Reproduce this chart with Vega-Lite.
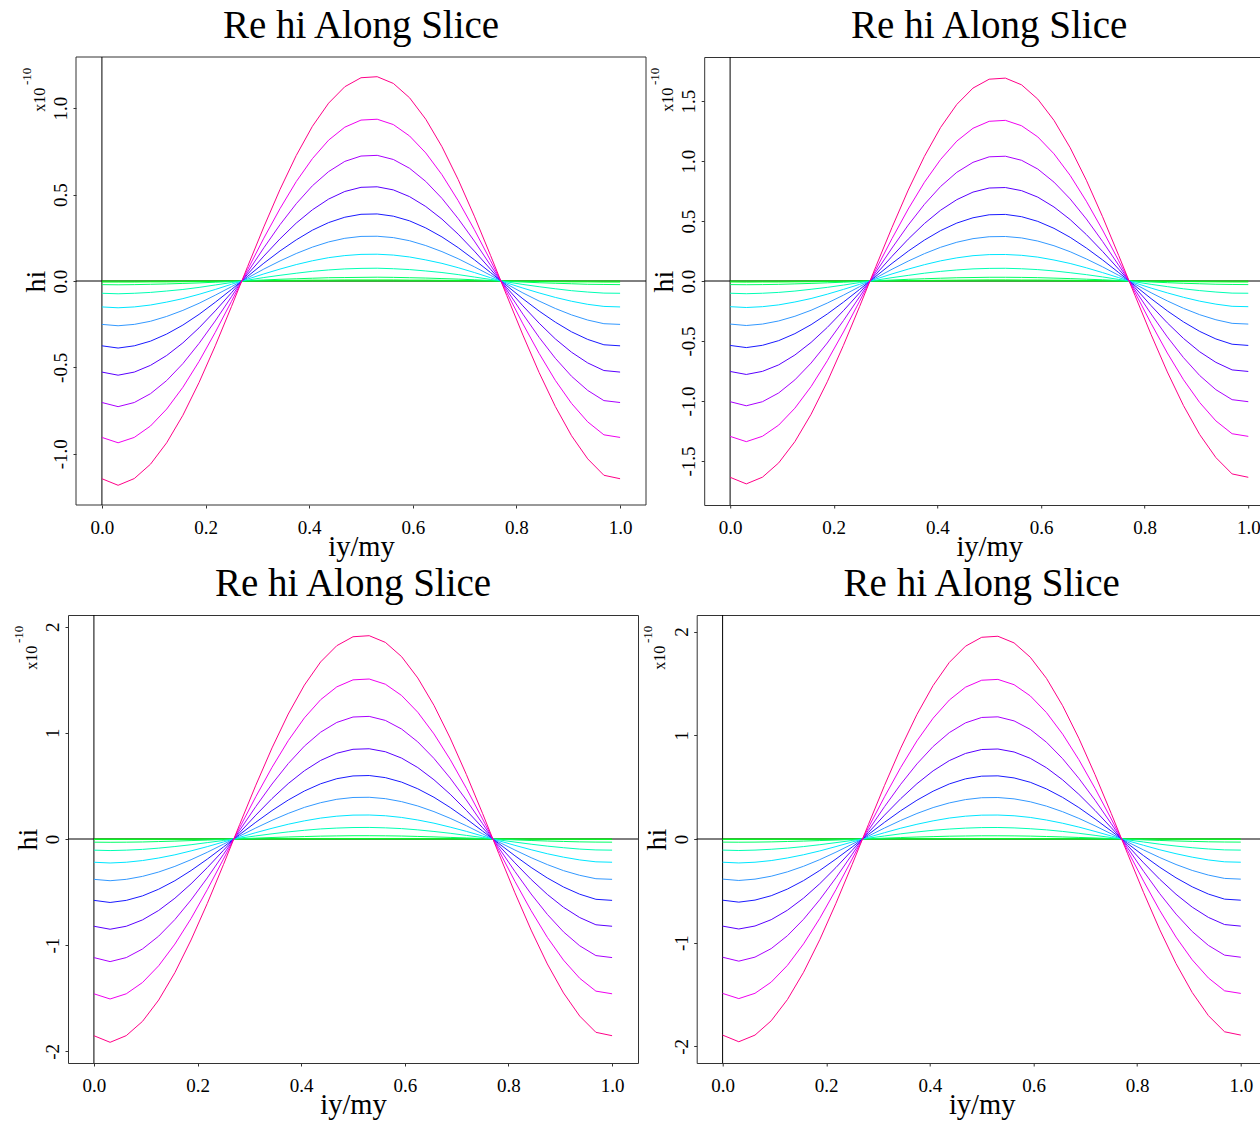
{
"$schema": "https://vega.github.io/schema/vega-lite/v6.json",
"background": "white",
"padding": {"left": 5, "top": 6, "right": 0, "bottom": 0},
"config": {
"font": "Liberation Serif",
"locale": {"number": {"decimal": ".", "thousands": ",", "grouping": [3], "currency": ["$", ""], "minus": "-"}},
"view": {"stroke": "#333333", "strokeWidth": 1},
"axis": {"grid": false, "domain": false, "ticks": true, "tickColor": "#333333", "tickSize": 3, "tickWidth": 1, "labelFont": "Liberation Serif", "labelFontSize": 19, "labelColor": "#000000", "labelOverlap": false, "labelFlush": false, "labelBound": false, "titleFont": "Liberation Serif", "titleFontWeight": "normal", "titleColor": "#000000"},
"axisX": {"labelAngle": 0, "labelAlign": "center", "labelBaseline": "alphabetic", "labelPadding": 25.2, "titleFontSize": 28.5, "titleAngle": 0, "titleAlign": "center", "titleBaseline": "alphabetic", "titleX": 285, "titleY": 50, "minExtent": 60, "maxExtent": 60},
"axisY": {"labelAngle": 270, "labelAlign": "center", "labelBaseline": "alphabetic", "labelPadding": 6.5, "titleFontSize": 28, "titleAngle": 270, "titleAlign": "center", "titleBaseline": "alphabetic", "titleX": -31.5, "titleY": 224, "minExtent": 55, "maxExtent": 55},
"title": {"font": "Liberation Serif", "fontSize": 39, "fontWeight": "normal", "color": "#000000", "baseline": "alphabetic", "offset": 11, "frame": "group", "anchor": "middle"}
},
"datasets": {
"p1": [
{"c":0,"x":0,"hi":0},{"c":0,"x":0.03125,"hi":0},{"c":0,"x":0.0625,"hi":0},{"c":0,"x":0.09375,"hi":0},{"c":0,"x":0.125,"hi":0},{"c":0,"x":0.15625,"hi":0},{"c":0,"x":0.1875,"hi":0},{"c":0,"x":0.21875,"hi":0},{"c":0,"x":0.25,"hi":0},{"c":0,"x":0.28125,"hi":0},{"c":0,"x":0.3125,"hi":0},{"c":0,"x":0.34375,"hi":0},{"c":0,"x":0.375,"hi":0},{"c":0,"x":0.40625,"hi":0},{"c":0,"x":0.4375,"hi":0},{"c":0,"x":0.46875,"hi":0},{"c":0,"x":0.5,"hi":0},{"c":0,"x":0.53125,"hi":0},{"c":0,"x":0.5625,"hi":0},{"c":0,"x":0.59375,"hi":0},{"c":0,"x":0.625,"hi":0},{"c":0,"x":0.65625,"hi":0},{"c":0,"x":0.6875,"hi":0},{"c":0,"x":0.71875,"hi":0},{"c":0,"x":0.75,"hi":0},{"c":0,"x":0.78125,"hi":0},{"c":0,"x":0.8125,"hi":0},{"c":0,"x":0.84375,"hi":0},{"c":0,"x":0.875,"hi":0},{"c":0,"x":0.90625,"hi":0},{"c":0,"x":0.9375,"hi":0},{"c":0,"x":0.96875,"hi":0},{"c":0,"x":1,"hi":0},
{"c":1,"x":0,"hi":-0.006},{"c":1,"x":0.03125,"hi":-0.006},{"c":1,"x":0.0625,"hi":-0.006},{"c":1,"x":0.09375,"hi":-0.005},{"c":1,"x":0.125,"hi":-0.005},{"c":1,"x":0.15625,"hi":-0.004},{"c":1,"x":0.1875,"hi":-0.003},{"c":1,"x":0.21875,"hi":-0.002},{"c":1,"x":0.25,"hi":-0.001},{"c":1,"x":0.28125,"hi":0},{"c":1,"x":0.3125,"hi":0.002},{"c":1,"x":0.34375,"hi":0.003},{"c":1,"x":0.375,"hi":0.004},{"c":1,"x":0.40625,"hi":0.005},{"c":1,"x":0.4375,"hi":0.005},{"c":1,"x":0.46875,"hi":0.006},{"c":1,"x":0.5,"hi":0.006},{"c":1,"x":0.53125,"hi":0.006},{"c":1,"x":0.5625,"hi":0.006},{"c":1,"x":0.59375,"hi":0.005},{"c":1,"x":0.625,"hi":0.005},{"c":1,"x":0.65625,"hi":0.004},{"c":1,"x":0.6875,"hi":0.003},{"c":1,"x":0.71875,"hi":0.002},{"c":1,"x":0.75,"hi":0.001},{"c":1,"x":0.78125,"hi":0},{"c":1,"x":0.8125,"hi":-0.002},{"c":1,"x":0.84375,"hi":-0.003},{"c":1,"x":0.875,"hi":-0.004},{"c":1,"x":0.90625,"hi":-0.005},{"c":1,"x":0.9375,"hi":-0.005},{"c":1,"x":0.96875,"hi":-0.006},{"c":1,"x":1,"hi":-0.006},
{"c":2,"x":0,"hi":-0.021},{"c":2,"x":0.03125,"hi":-0.022},{"c":2,"x":0.0625,"hi":-0.021},{"c":2,"x":0.09375,"hi":-0.019},{"c":2,"x":0.125,"hi":-0.017},{"c":2,"x":0.15625,"hi":-0.014},{"c":2,"x":0.1875,"hi":-0.011},{"c":2,"x":0.21875,"hi":-0.007},{"c":2,"x":0.25,"hi":-0.003},{"c":2,"x":0.28125,"hi":0.002},{"c":2,"x":0.3125,"hi":0.006},{"c":2,"x":0.34375,"hi":0.01},{"c":2,"x":0.375,"hi":0.013},{"c":2,"x":0.40625,"hi":0.016},{"c":2,"x":0.4375,"hi":0.019},{"c":2,"x":0.46875,"hi":0.02},{"c":2,"x":0.5,"hi":0.021},{"c":2,"x":0.53125,"hi":0.022},{"c":2,"x":0.5625,"hi":0.021},{"c":2,"x":0.59375,"hi":0.019},{"c":2,"x":0.625,"hi":0.017},{"c":2,"x":0.65625,"hi":0.014},{"c":2,"x":0.6875,"hi":0.011},{"c":2,"x":0.71875,"hi":0.007},{"c":2,"x":0.75,"hi":0.003},{"c":2,"x":0.78125,"hi":-0.002},{"c":2,"x":0.8125,"hi":-0.006},{"c":2,"x":0.84375,"hi":-0.01},{"c":2,"x":0.875,"hi":-0.013},{"c":2,"x":0.90625,"hi":-0.016},{"c":2,"x":0.9375,"hi":-0.019},{"c":2,"x":0.96875,"hi":-0.02},{"c":2,"x":1,"hi":-0.021},
{"c":3,"x":0,"hi":-0.071},{"c":3,"x":0.03125,"hi":-0.074},{"c":3,"x":0.0625,"hi":-0.071},{"c":3,"x":0.09375,"hi":-0.066},{"c":3,"x":0.125,"hi":-0.058},{"c":3,"x":0.15625,"hi":-0.049},{"c":3,"x":0.1875,"hi":-0.037},{"c":3,"x":0.21875,"hi":-0.023},{"c":3,"x":0.25,"hi":-0.009},{"c":3,"x":0.28125,"hi":0.005},{"c":3,"x":0.3125,"hi":0.02},{"c":3,"x":0.34375,"hi":0.033},{"c":3,"x":0.375,"hi":0.045},{"c":3,"x":0.40625,"hi":0.056},{"c":3,"x":0.4375,"hi":0.064},{"c":3,"x":0.46875,"hi":0.07},{"c":3,"x":0.5,"hi":0.073},{"c":3,"x":0.53125,"hi":0.074},{"c":3,"x":0.5625,"hi":0.071},{"c":3,"x":0.59375,"hi":0.066},{"c":3,"x":0.625,"hi":0.058},{"c":3,"x":0.65625,"hi":0.049},{"c":3,"x":0.6875,"hi":0.037},{"c":3,"x":0.71875,"hi":0.023},{"c":3,"x":0.75,"hi":0.009},{"c":3,"x":0.78125,"hi":-0.005},{"c":3,"x":0.8125,"hi":-0.02},{"c":3,"x":0.84375,"hi":-0.033},{"c":3,"x":0.875,"hi":-0.045},{"c":3,"x":0.90625,"hi":-0.056},{"c":3,"x":0.9375,"hi":-0.064},{"c":3,"x":0.96875,"hi":-0.07},{"c":3,"x":1,"hi":-0.071},
{"c":4,"x":0,"hi":-0.15},{"c":4,"x":0.03125,"hi":-0.155},{"c":4,"x":0.0625,"hi":-0.15},{"c":4,"x":0.09375,"hi":-0.139},{"c":4,"x":0.125,"hi":-0.122},{"c":4,"x":0.15625,"hi":-0.102},{"c":4,"x":0.1875,"hi":-0.077},{"c":4,"x":0.21875,"hi":-0.049},{"c":4,"x":0.25,"hi":-0.019},{"c":4,"x":0.28125,"hi":0.011},{"c":4,"x":0.3125,"hi":0.041},{"c":4,"x":0.34375,"hi":0.069},{"c":4,"x":0.375,"hi":0.095},{"c":4,"x":0.40625,"hi":0.117},{"c":4,"x":0.4375,"hi":0.135},{"c":4,"x":0.46875,"hi":0.147},{"c":4,"x":0.5,"hi":0.154},{"c":4,"x":0.53125,"hi":0.155},{"c":4,"x":0.5625,"hi":0.15},{"c":4,"x":0.59375,"hi":0.139},{"c":4,"x":0.625,"hi":0.122},{"c":4,"x":0.65625,"hi":0.102},{"c":4,"x":0.6875,"hi":0.077},{"c":4,"x":0.71875,"hi":0.049},{"c":4,"x":0.75,"hi":0.019},{"c":4,"x":0.78125,"hi":-0.011},{"c":4,"x":0.8125,"hi":-0.041},{"c":4,"x":0.84375,"hi":-0.069},{"c":4,"x":0.875,"hi":-0.095},{"c":4,"x":0.90625,"hi":-0.117},{"c":4,"x":0.9375,"hi":-0.135},{"c":4,"x":0.96875,"hi":-0.147},{"c":4,"x":1,"hi":-0.15},
{"c":5,"x":0,"hi":-0.251},{"c":5,"x":0.03125,"hi":-0.259},{"c":5,"x":0.0625,"hi":-0.251},{"c":5,"x":0.09375,"hi":-0.233},{"c":5,"x":0.125,"hi":-0.205},{"c":5,"x":0.15625,"hi":-0.17},{"c":5,"x":0.1875,"hi":-0.129},{"c":5,"x":0.21875,"hi":-0.082},{"c":5,"x":0.25,"hi":-0.033},{"c":5,"x":0.28125,"hi":0.018},{"c":5,"x":0.3125,"hi":0.069},{"c":5,"x":0.34375,"hi":0.116},{"c":5,"x":0.375,"hi":0.159},{"c":5,"x":0.40625,"hi":0.196},{"c":5,"x":0.4375,"hi":0.226},{"c":5,"x":0.46875,"hi":0.247},{"c":5,"x":0.5,"hi":0.258},{"c":5,"x":0.53125,"hi":0.259},{"c":5,"x":0.5625,"hi":0.251},{"c":5,"x":0.59375,"hi":0.233},{"c":5,"x":0.625,"hi":0.205},{"c":5,"x":0.65625,"hi":0.17},{"c":5,"x":0.6875,"hi":0.129},{"c":5,"x":0.71875,"hi":0.082},{"c":5,"x":0.75,"hi":0.033},{"c":5,"x":0.78125,"hi":-0.018},{"c":5,"x":0.8125,"hi":-0.069},{"c":5,"x":0.84375,"hi":-0.116},{"c":5,"x":0.875,"hi":-0.159},{"c":5,"x":0.90625,"hi":-0.196},{"c":5,"x":0.9375,"hi":-0.226},{"c":5,"x":0.96875,"hi":-0.247},{"c":5,"x":1,"hi":-0.251},
{"c":6,"x":0,"hi":-0.375},{"c":6,"x":0.03125,"hi":-0.388},{"c":6,"x":0.0625,"hi":-0.375},{"c":6,"x":0.09375,"hi":-0.348},{"c":6,"x":0.125,"hi":-0.307},{"c":6,"x":0.15625,"hi":-0.255},{"c":6,"x":0.1875,"hi":-0.193},{"c":6,"x":0.21875,"hi":-0.123},{"c":6,"x":0.25,"hi":-0.049},{"c":6,"x":0.28125,"hi":0.027},{"c":6,"x":0.3125,"hi":0.103},{"c":6,"x":0.34375,"hi":0.174},{"c":6,"x":0.375,"hi":0.238},{"c":6,"x":0.40625,"hi":0.294},{"c":6,"x":0.4375,"hi":0.338},{"c":6,"x":0.46875,"hi":0.369},{"c":6,"x":0.5,"hi":0.386},{"c":6,"x":0.53125,"hi":0.388},{"c":6,"x":0.5625,"hi":0.375},{"c":6,"x":0.59375,"hi":0.348},{"c":6,"x":0.625,"hi":0.307},{"c":6,"x":0.65625,"hi":0.255},{"c":6,"x":0.6875,"hi":0.193},{"c":6,"x":0.71875,"hi":0.123},{"c":6,"x":0.75,"hi":0.049},{"c":6,"x":0.78125,"hi":-0.027},{"c":6,"x":0.8125,"hi":-0.103},{"c":6,"x":0.84375,"hi":-0.174},{"c":6,"x":0.875,"hi":-0.238},{"c":6,"x":0.90625,"hi":-0.294},{"c":6,"x":0.9375,"hi":-0.338},{"c":6,"x":0.96875,"hi":-0.369},{"c":6,"x":1,"hi":-0.375},
{"c":7,"x":0,"hi":-0.527},{"c":7,"x":0.03125,"hi":-0.545},{"c":7,"x":0.0625,"hi":-0.527},{"c":7,"x":0.09375,"hi":-0.488},{"c":7,"x":0.125,"hi":-0.431},{"c":7,"x":0.15625,"hi":-0.358},{"c":7,"x":0.1875,"hi":-0.271},{"c":7,"x":0.21875,"hi":-0.173},{"c":7,"x":0.25,"hi":-0.068},{"c":7,"x":0.28125,"hi":0.039},{"c":7,"x":0.3125,"hi":0.144},{"c":7,"x":0.34375,"hi":0.244},{"c":7,"x":0.375,"hi":0.335},{"c":7,"x":0.40625,"hi":0.412},{"c":7,"x":0.4375,"hi":0.474},{"c":7,"x":0.46875,"hi":0.518},{"c":7,"x":0.5,"hi":0.542},{"c":7,"x":0.53125,"hi":0.545},{"c":7,"x":0.5625,"hi":0.527},{"c":7,"x":0.59375,"hi":0.488},{"c":7,"x":0.625,"hi":0.431},{"c":7,"x":0.65625,"hi":0.358},{"c":7,"x":0.6875,"hi":0.271},{"c":7,"x":0.71875,"hi":0.173},{"c":7,"x":0.75,"hi":0.068},{"c":7,"x":0.78125,"hi":-0.039},{"c":7,"x":0.8125,"hi":-0.144},{"c":7,"x":0.84375,"hi":-0.244},{"c":7,"x":0.875,"hi":-0.335},{"c":7,"x":0.90625,"hi":-0.412},{"c":7,"x":0.9375,"hi":-0.474},{"c":7,"x":0.96875,"hi":-0.518},{"c":7,"x":1,"hi":-0.527},
{"c":8,"x":0,"hi":-0.703},{"c":8,"x":0.03125,"hi":-0.727},{"c":8,"x":0.0625,"hi":-0.703},{"c":8,"x":0.09375,"hi":-0.652},{"c":8,"x":0.125,"hi":-0.576},{"c":8,"x":0.15625,"hi":-0.478},{"c":8,"x":0.1875,"hi":-0.361},{"c":8,"x":0.21875,"hi":-0.231},{"c":8,"x":0.25,"hi":-0.091},{"c":8,"x":0.28125,"hi":0.051},{"c":8,"x":0.3125,"hi":0.192},{"c":8,"x":0.34375,"hi":0.326},{"c":8,"x":0.375,"hi":0.447},{"c":8,"x":0.40625,"hi":0.551},{"c":8,"x":0.4375,"hi":0.633},{"c":8,"x":0.46875,"hi":0.692},{"c":8,"x":0.5,"hi":0.723},{"c":8,"x":0.53125,"hi":0.727},{"c":8,"x":0.5625,"hi":0.703},{"c":8,"x":0.59375,"hi":0.652},{"c":8,"x":0.625,"hi":0.576},{"c":8,"x":0.65625,"hi":0.478},{"c":8,"x":0.6875,"hi":0.361},{"c":8,"x":0.71875,"hi":0.231},{"c":8,"x":0.75,"hi":0.091},{"c":8,"x":0.78125,"hi":-0.051},{"c":8,"x":0.8125,"hi":-0.192},{"c":8,"x":0.84375,"hi":-0.326},{"c":8,"x":0.875,"hi":-0.447},{"c":8,"x":0.90625,"hi":-0.551},{"c":8,"x":0.9375,"hi":-0.633},{"c":8,"x":0.96875,"hi":-0.692},{"c":8,"x":1,"hi":-0.703},
{"c":9,"x":0,"hi":-0.905},{"c":9,"x":0.03125,"hi":-0.936},{"c":9,"x":0.0625,"hi":-0.905},{"c":9,"x":0.09375,"hi":-0.839},{"c":9,"x":0.125,"hi":-0.741},{"c":9,"x":0.15625,"hi":-0.615},{"c":9,"x":0.1875,"hi":-0.465},{"c":9,"x":0.21875,"hi":-0.297},{"c":9,"x":0.25,"hi":-0.118},{"c":9,"x":0.28125,"hi":0.066},{"c":9,"x":0.3125,"hi":0.248},{"c":9,"x":0.34375,"hi":0.419},{"c":9,"x":0.375,"hi":0.575},{"c":9,"x":0.40625,"hi":0.708},{"c":9,"x":0.4375,"hi":0.815},{"c":9,"x":0.46875,"hi":0.89},{"c":9,"x":0.5,"hi":0.931},{"c":9,"x":0.53125,"hi":0.936},{"c":9,"x":0.5625,"hi":0.905},{"c":9,"x":0.59375,"hi":0.839},{"c":9,"x":0.625,"hi":0.741},{"c":9,"x":0.65625,"hi":0.615},{"c":9,"x":0.6875,"hi":0.465},{"c":9,"x":0.71875,"hi":0.297},{"c":9,"x":0.75,"hi":0.118},{"c":9,"x":0.78125,"hi":-0.066},{"c":9,"x":0.8125,"hi":-0.248},{"c":9,"x":0.84375,"hi":-0.419},{"c":9,"x":0.875,"hi":-0.575},{"c":9,"x":0.90625,"hi":-0.708},{"c":9,"x":0.9375,"hi":-0.815},{"c":9,"x":0.96875,"hi":-0.89},{"c":9,"x":1,"hi":-0.905},
{"c":10,"x":0,"hi":-1.144},{"c":10,"x":0.03125,"hi":-1.182},{"c":10,"x":0.0625,"hi":-1.143},{"c":10,"x":0.09375,"hi":-1.06},{"c":10,"x":0.125,"hi":-0.936},{"c":10,"x":0.15625,"hi":-0.777},{"c":10,"x":0.1875,"hi":-0.587},{"c":10,"x":0.21875,"hi":-0.375},{"c":10,"x":0.25,"hi":-0.148},{"c":10,"x":0.28125,"hi":0.084},{"c":10,"x":0.3125,"hi":0.313},{"c":10,"x":0.34375,"hi":0.53},{"c":10,"x":0.375,"hi":0.726},{"c":10,"x":0.40625,"hi":0.895},{"c":10,"x":0.4375,"hi":1.029},{"c":10,"x":0.46875,"hi":1.124},{"c":10,"x":0.5,"hi":1.176},{"c":10,"x":0.53125,"hi":1.182},{"c":10,"x":0.5625,"hi":1.143},{"c":10,"x":0.59375,"hi":1.06},{"c":10,"x":0.625,"hi":0.936},{"c":10,"x":0.65625,"hi":0.777},{"c":10,"x":0.6875,"hi":0.587},{"c":10,"x":0.71875,"hi":0.375},{"c":10,"x":0.75,"hi":0.148},{"c":10,"x":0.78125,"hi":-0.084},{"c":10,"x":0.8125,"hi":-0.313},{"c":10,"x":0.84375,"hi":-0.53},{"c":10,"x":0.875,"hi":-0.726},{"c":10,"x":0.90625,"hi":-0.895},{"c":10,"x":0.9375,"hi":-1.029},{"c":10,"x":0.96875,"hi":-1.124},{"c":10,"x":1,"hi":-1.144}
],
"p2": [
{"c":0,"x":0,"hi":0},{"c":0,"x":0.03125,"hi":0},{"c":0,"x":0.0625,"hi":0},{"c":0,"x":0.09375,"hi":0},{"c":0,"x":0.125,"hi":0},{"c":0,"x":0.15625,"hi":0},{"c":0,"x":0.1875,"hi":0},{"c":0,"x":0.21875,"hi":0},{"c":0,"x":0.25,"hi":0},{"c":0,"x":0.28125,"hi":0},{"c":0,"x":0.3125,"hi":0},{"c":0,"x":0.34375,"hi":0},{"c":0,"x":0.375,"hi":0},{"c":0,"x":0.40625,"hi":0},{"c":0,"x":0.4375,"hi":0},{"c":0,"x":0.46875,"hi":0},{"c":0,"x":0.5,"hi":0},{"c":0,"x":0.53125,"hi":0},{"c":0,"x":0.5625,"hi":0},{"c":0,"x":0.59375,"hi":0},{"c":0,"x":0.625,"hi":0},{"c":0,"x":0.65625,"hi":0},{"c":0,"x":0.6875,"hi":0},{"c":0,"x":0.71875,"hi":0},{"c":0,"x":0.75,"hi":0},{"c":0,"x":0.78125,"hi":0},{"c":0,"x":0.8125,"hi":0},{"c":0,"x":0.84375,"hi":0},{"c":0,"x":0.875,"hi":0},{"c":0,"x":0.90625,"hi":0},{"c":0,"x":0.9375,"hi":0},{"c":0,"x":0.96875,"hi":0},{"c":0,"x":1,"hi":0},
{"c":1,"x":0,"hi":-0.008},{"c":1,"x":0.03125,"hi":-0.009},{"c":1,"x":0.0625,"hi":-0.008},{"c":1,"x":0.09375,"hi":-0.008},{"c":1,"x":0.125,"hi":-0.007},{"c":1,"x":0.15625,"hi":-0.006},{"c":1,"x":0.1875,"hi":-0.004},{"c":1,"x":0.21875,"hi":-0.003},{"c":1,"x":0.25,"hi":-0.001},{"c":1,"x":0.28125,"hi":0.001},{"c":1,"x":0.3125,"hi":0.002},{"c":1,"x":0.34375,"hi":0.004},{"c":1,"x":0.375,"hi":0.005},{"c":1,"x":0.40625,"hi":0.006},{"c":1,"x":0.4375,"hi":0.007},{"c":1,"x":0.46875,"hi":0.008},{"c":1,"x":0.5,"hi":0.009},{"c":1,"x":0.53125,"hi":0.009},{"c":1,"x":0.5625,"hi":0.008},{"c":1,"x":0.59375,"hi":0.008},{"c":1,"x":0.625,"hi":0.007},{"c":1,"x":0.65625,"hi":0.006},{"c":1,"x":0.6875,"hi":0.004},{"c":1,"x":0.71875,"hi":0.003},{"c":1,"x":0.75,"hi":0.001},{"c":1,"x":0.78125,"hi":-0.001},{"c":1,"x":0.8125,"hi":-0.002},{"c":1,"x":0.84375,"hi":-0.004},{"c":1,"x":0.875,"hi":-0.005},{"c":1,"x":0.90625,"hi":-0.006},{"c":1,"x":0.9375,"hi":-0.007},{"c":1,"x":0.96875,"hi":-0.008},{"c":1,"x":1,"hi":-0.008},
{"c":2,"x":0,"hi":-0.03},{"c":2,"x":0.03125,"hi":-0.031},{"c":2,"x":0.0625,"hi":-0.03},{"c":2,"x":0.09375,"hi":-0.028},{"c":2,"x":0.125,"hi":-0.024},{"c":2,"x":0.15625,"hi":-0.02},{"c":2,"x":0.1875,"hi":-0.015},{"c":2,"x":0.21875,"hi":-0.01},{"c":2,"x":0.25,"hi":-0.004},{"c":2,"x":0.28125,"hi":0.002},{"c":2,"x":0.3125,"hi":0.008},{"c":2,"x":0.34375,"hi":0.014},{"c":2,"x":0.375,"hi":0.019},{"c":2,"x":0.40625,"hi":0.023},{"c":2,"x":0.4375,"hi":0.027},{"c":2,"x":0.46875,"hi":0.029},{"c":2,"x":0.5,"hi":0.031},{"c":2,"x":0.53125,"hi":0.031},{"c":2,"x":0.5625,"hi":0.03},{"c":2,"x":0.59375,"hi":0.028},{"c":2,"x":0.625,"hi":0.024},{"c":2,"x":0.65625,"hi":0.02},{"c":2,"x":0.6875,"hi":0.015},{"c":2,"x":0.71875,"hi":0.01},{"c":2,"x":0.75,"hi":0.004},{"c":2,"x":0.78125,"hi":-0.002},{"c":2,"x":0.8125,"hi":-0.008},{"c":2,"x":0.84375,"hi":-0.014},{"c":2,"x":0.875,"hi":-0.019},{"c":2,"x":0.90625,"hi":-0.023},{"c":2,"x":0.9375,"hi":-0.027},{"c":2,"x":0.96875,"hi":-0.029},{"c":2,"x":1,"hi":-0.03},
{"c":3,"x":0,"hi":-0.102},{"c":3,"x":0.03125,"hi":-0.106},{"c":3,"x":0.0625,"hi":-0.102},{"c":3,"x":0.09375,"hi":-0.095},{"c":3,"x":0.125,"hi":-0.084},{"c":3,"x":0.15625,"hi":-0.069},{"c":3,"x":0.1875,"hi":-0.053},{"c":3,"x":0.21875,"hi":-0.034},{"c":3,"x":0.25,"hi":-0.013},{"c":3,"x":0.28125,"hi":0.007},{"c":3,"x":0.3125,"hi":0.028},{"c":3,"x":0.34375,"hi":0.047},{"c":3,"x":0.375,"hi":0.065},{"c":3,"x":0.40625,"hi":0.08},{"c":3,"x":0.4375,"hi":0.092},{"c":3,"x":0.46875,"hi":0.101},{"c":3,"x":0.5,"hi":0.105},{"c":3,"x":0.53125,"hi":0.106},{"c":3,"x":0.5625,"hi":0.102},{"c":3,"x":0.59375,"hi":0.095},{"c":3,"x":0.625,"hi":0.084},{"c":3,"x":0.65625,"hi":0.069},{"c":3,"x":0.6875,"hi":0.053},{"c":3,"x":0.71875,"hi":0.034},{"c":3,"x":0.75,"hi":0.013},{"c":3,"x":0.78125,"hi":-0.007},{"c":3,"x":0.8125,"hi":-0.028},{"c":3,"x":0.84375,"hi":-0.047},{"c":3,"x":0.875,"hi":-0.065},{"c":3,"x":0.90625,"hi":-0.08},{"c":3,"x":0.9375,"hi":-0.092},{"c":3,"x":0.96875,"hi":-0.101},{"c":3,"x":1,"hi":-0.102},
{"c":4,"x":0,"hi":-0.214},{"c":4,"x":0.03125,"hi":-0.221},{"c":4,"x":0.0625,"hi":-0.214},{"c":4,"x":0.09375,"hi":-0.199},{"c":4,"x":0.125,"hi":-0.175},{"c":4,"x":0.15625,"hi":-0.146},{"c":4,"x":0.1875,"hi":-0.11},{"c":4,"x":0.21875,"hi":-0.07},{"c":4,"x":0.25,"hi":-0.028},{"c":4,"x":0.28125,"hi":0.016},{"c":4,"x":0.3125,"hi":0.059},{"c":4,"x":0.34375,"hi":0.099},{"c":4,"x":0.375,"hi":0.136},{"c":4,"x":0.40625,"hi":0.168},{"c":4,"x":0.4375,"hi":0.193},{"c":4,"x":0.46875,"hi":0.211},{"c":4,"x":0.5,"hi":0.22},{"c":4,"x":0.53125,"hi":0.221},{"c":4,"x":0.5625,"hi":0.214},{"c":4,"x":0.59375,"hi":0.199},{"c":4,"x":0.625,"hi":0.175},{"c":4,"x":0.65625,"hi":0.146},{"c":4,"x":0.6875,"hi":0.11},{"c":4,"x":0.71875,"hi":0.07},{"c":4,"x":0.75,"hi":0.028},{"c":4,"x":0.78125,"hi":-0.016},{"c":4,"x":0.8125,"hi":-0.059},{"c":4,"x":0.84375,"hi":-0.099},{"c":4,"x":0.875,"hi":-0.136},{"c":4,"x":0.90625,"hi":-0.168},{"c":4,"x":0.9375,"hi":-0.193},{"c":4,"x":0.96875,"hi":-0.211},{"c":4,"x":1,"hi":-0.214},
{"c":5,"x":0,"hi":-0.359},{"c":5,"x":0.03125,"hi":-0.371},{"c":5,"x":0.0625,"hi":-0.359},{"c":5,"x":0.09375,"hi":-0.333},{"c":5,"x":0.125,"hi":-0.294},{"c":5,"x":0.15625,"hi":-0.244},{"c":5,"x":0.1875,"hi":-0.184},{"c":5,"x":0.21875,"hi":-0.118},{"c":5,"x":0.25,"hi":-0.047},{"c":5,"x":0.28125,"hi":0.026},{"c":5,"x":0.3125,"hi":0.098},{"c":5,"x":0.34375,"hi":0.166},{"c":5,"x":0.375,"hi":0.228},{"c":5,"x":0.40625,"hi":0.281},{"c":5,"x":0.4375,"hi":0.323},{"c":5,"x":0.46875,"hi":0.353},{"c":5,"x":0.5,"hi":0.369},{"c":5,"x":0.53125,"hi":0.371},{"c":5,"x":0.5625,"hi":0.359},{"c":5,"x":0.59375,"hi":0.333},{"c":5,"x":0.625,"hi":0.294},{"c":5,"x":0.65625,"hi":0.244},{"c":5,"x":0.6875,"hi":0.184},{"c":5,"x":0.71875,"hi":0.118},{"c":5,"x":0.75,"hi":0.047},{"c":5,"x":0.78125,"hi":-0.026},{"c":5,"x":0.8125,"hi":-0.098},{"c":5,"x":0.84375,"hi":-0.166},{"c":5,"x":0.875,"hi":-0.228},{"c":5,"x":0.90625,"hi":-0.281},{"c":5,"x":0.9375,"hi":-0.323},{"c":5,"x":0.96875,"hi":-0.353},{"c":5,"x":1,"hi":-0.359},
{"c":6,"x":0,"hi":-0.537},{"c":6,"x":0.03125,"hi":-0.555},{"c":6,"x":0.0625,"hi":-0.536},{"c":6,"x":0.09375,"hi":-0.497},{"c":6,"x":0.125,"hi":-0.439},{"c":6,"x":0.15625,"hi":-0.364},{"c":6,"x":0.1875,"hi":-0.275},{"c":6,"x":0.21875,"hi":-0.176},{"c":6,"x":0.25,"hi":-0.07},{"c":6,"x":0.28125,"hi":0.039},{"c":6,"x":0.3125,"hi":0.147},{"c":6,"x":0.34375,"hi":0.249},{"c":6,"x":0.375,"hi":0.341},{"c":6,"x":0.40625,"hi":0.42},{"c":6,"x":0.4375,"hi":0.483},{"c":6,"x":0.46875,"hi":0.527},{"c":6,"x":0.5,"hi":0.552},{"c":6,"x":0.53125,"hi":0.555},{"c":6,"x":0.5625,"hi":0.536},{"c":6,"x":0.59375,"hi":0.497},{"c":6,"x":0.625,"hi":0.439},{"c":6,"x":0.65625,"hi":0.364},{"c":6,"x":0.6875,"hi":0.275},{"c":6,"x":0.71875,"hi":0.176},{"c":6,"x":0.75,"hi":0.07},{"c":6,"x":0.78125,"hi":-0.039},{"c":6,"x":0.8125,"hi":-0.147},{"c":6,"x":0.84375,"hi":-0.249},{"c":6,"x":0.875,"hi":-0.341},{"c":6,"x":0.90625,"hi":-0.42},{"c":6,"x":0.9375,"hi":-0.483},{"c":6,"x":0.96875,"hi":-0.527},{"c":6,"x":1,"hi":-0.537},
{"c":7,"x":0,"hi":-0.754},{"c":7,"x":0.03125,"hi":-0.779},{"c":7,"x":0.0625,"hi":-0.753},{"c":7,"x":0.09375,"hi":-0.699},{"c":7,"x":0.125,"hi":-0.617},{"c":7,"x":0.15625,"hi":-0.512},{"c":7,"x":0.1875,"hi":-0.387},{"c":7,"x":0.21875,"hi":-0.247},{"c":7,"x":0.25,"hi":-0.098},{"c":7,"x":0.28125,"hi":0.055},{"c":7,"x":0.3125,"hi":0.206},{"c":7,"x":0.34375,"hi":0.349},{"c":7,"x":0.375,"hi":0.479},{"c":7,"x":0.40625,"hi":0.59},{"c":7,"x":0.4375,"hi":0.678},{"c":7,"x":0.46875,"hi":0.741},{"c":7,"x":0.5,"hi":0.775},{"c":7,"x":0.53125,"hi":0.779},{"c":7,"x":0.5625,"hi":0.753},{"c":7,"x":0.59375,"hi":0.699},{"c":7,"x":0.625,"hi":0.617},{"c":7,"x":0.65625,"hi":0.512},{"c":7,"x":0.6875,"hi":0.387},{"c":7,"x":0.71875,"hi":0.247},{"c":7,"x":0.75,"hi":0.098},{"c":7,"x":0.78125,"hi":-0.055},{"c":7,"x":0.8125,"hi":-0.206},{"c":7,"x":0.84375,"hi":-0.349},{"c":7,"x":0.875,"hi":-0.479},{"c":7,"x":0.90625,"hi":-0.59},{"c":7,"x":0.9375,"hi":-0.678},{"c":7,"x":0.96875,"hi":-0.741},{"c":7,"x":1,"hi":-0.754},
{"c":8,"x":0,"hi":-1.006},{"c":8,"x":0.03125,"hi":-1.04},{"c":8,"x":0.0625,"hi":-1.006},{"c":8,"x":0.09375,"hi":-0.933},{"c":8,"x":0.125,"hi":-0.824},{"c":8,"x":0.15625,"hi":-0.684},{"c":8,"x":0.1875,"hi":-0.517},{"c":8,"x":0.21875,"hi":-0.33},{"c":8,"x":0.25,"hi":-0.131},{"c":8,"x":0.28125,"hi":0.074},{"c":8,"x":0.3125,"hi":0.275},{"c":8,"x":0.34375,"hi":0.466},{"c":8,"x":0.375,"hi":0.639},{"c":8,"x":0.40625,"hi":0.788},{"c":8,"x":0.4375,"hi":0.906},{"c":8,"x":0.46875,"hi":0.989},{"c":8,"x":0.5,"hi":1.035},{"c":8,"x":0.53125,"hi":1.04},{"c":8,"x":0.5625,"hi":1.006},{"c":8,"x":0.59375,"hi":0.933},{"c":8,"x":0.625,"hi":0.824},{"c":8,"x":0.65625,"hi":0.684},{"c":8,"x":0.6875,"hi":0.517},{"c":8,"x":0.71875,"hi":0.33},{"c":8,"x":0.75,"hi":0.131},{"c":8,"x":0.78125,"hi":-0.074},{"c":8,"x":0.8125,"hi":-0.275},{"c":8,"x":0.84375,"hi":-0.466},{"c":8,"x":0.875,"hi":-0.639},{"c":8,"x":0.90625,"hi":-0.788},{"c":8,"x":0.9375,"hi":-0.906},{"c":8,"x":0.96875,"hi":-0.989},{"c":8,"x":1,"hi":-1.006},
{"c":9,"x":0,"hi":-1.295},{"c":9,"x":0.03125,"hi":-1.339},{"c":9,"x":0.0625,"hi":-1.294},{"c":9,"x":0.09375,"hi":-1.201},{"c":9,"x":0.125,"hi":-1.06},{"c":9,"x":0.15625,"hi":-0.88},{"c":9,"x":0.1875,"hi":-0.665},{"c":9,"x":0.21875,"hi":-0.425},{"c":9,"x":0.25,"hi":-0.168},{"c":9,"x":0.28125,"hi":0.095},{"c":9,"x":0.3125,"hi":0.354},{"c":9,"x":0.34375,"hi":0.6},{"c":9,"x":0.375,"hi":0.823},{"c":9,"x":0.40625,"hi":1.013},{"c":9,"x":0.4375,"hi":1.166},{"c":9,"x":0.46875,"hi":1.273},{"c":9,"x":0.5,"hi":1.331},{"c":9,"x":0.53125,"hi":1.339},{"c":9,"x":0.5625,"hi":1.294},{"c":9,"x":0.59375,"hi":1.201},{"c":9,"x":0.625,"hi":1.06},{"c":9,"x":0.65625,"hi":0.88},{"c":9,"x":0.6875,"hi":0.665},{"c":9,"x":0.71875,"hi":0.425},{"c":9,"x":0.75,"hi":0.168},{"c":9,"x":0.78125,"hi":-0.095},{"c":9,"x":0.8125,"hi":-0.354},{"c":9,"x":0.84375,"hi":-0.6},{"c":9,"x":0.875,"hi":-0.823},{"c":9,"x":0.90625,"hi":-1.013},{"c":9,"x":0.9375,"hi":-1.166},{"c":9,"x":0.96875,"hi":-1.273},{"c":9,"x":1,"hi":-1.295},
{"c":10,"x":0,"hi":-1.636},{"c":10,"x":0.03125,"hi":-1.691},{"c":10,"x":0.0625,"hi":-1.635},{"c":10,"x":0.09375,"hi":-1.516},{"c":10,"x":0.125,"hi":-1.339},{"c":10,"x":0.15625,"hi":-1.111},{"c":10,"x":0.1875,"hi":-0.84},{"c":10,"x":0.21875,"hi":-0.536},{"c":10,"x":0.25,"hi":-0.212},{"c":10,"x":0.28125,"hi":0.12},{"c":10,"x":0.3125,"hi":0.447},{"c":10,"x":0.34375,"hi":0.758},{"c":10,"x":0.375,"hi":1.039},{"c":10,"x":0.40625,"hi":1.28},{"c":10,"x":0.4375,"hi":1.472},{"c":10,"x":0.46875,"hi":1.608},{"c":10,"x":0.5,"hi":1.682},{"c":10,"x":0.53125,"hi":1.691},{"c":10,"x":0.5625,"hi":1.635},{"c":10,"x":0.59375,"hi":1.516},{"c":10,"x":0.625,"hi":1.339},{"c":10,"x":0.65625,"hi":1.111},{"c":10,"x":0.6875,"hi":0.84},{"c":10,"x":0.71875,"hi":0.536},{"c":10,"x":0.75,"hi":0.212},{"c":10,"x":0.78125,"hi":-0.12},{"c":10,"x":0.8125,"hi":-0.447},{"c":10,"x":0.84375,"hi":-0.758},{"c":10,"x":0.875,"hi":-1.039},{"c":10,"x":0.90625,"hi":-1.28},{"c":10,"x":0.9375,"hi":-1.472},{"c":10,"x":0.96875,"hi":-1.608},{"c":10,"x":1,"hi":-1.636}
],
"p3": [
{"c":0,"x":0,"hi":0},{"c":0,"x":0.03125,"hi":0},{"c":0,"x":0.0625,"hi":0},{"c":0,"x":0.09375,"hi":0},{"c":0,"x":0.125,"hi":0},{"c":0,"x":0.15625,"hi":0},{"c":0,"x":0.1875,"hi":0},{"c":0,"x":0.21875,"hi":0},{"c":0,"x":0.25,"hi":0},{"c":0,"x":0.28125,"hi":0},{"c":0,"x":0.3125,"hi":0},{"c":0,"x":0.34375,"hi":0},{"c":0,"x":0.375,"hi":0},{"c":0,"x":0.40625,"hi":0},{"c":0,"x":0.4375,"hi":0},{"c":0,"x":0.46875,"hi":0},{"c":0,"x":0.5,"hi":0},{"c":0,"x":0.53125,"hi":0},{"c":0,"x":0.5625,"hi":0},{"c":0,"x":0.59375,"hi":0},{"c":0,"x":0.625,"hi":0},{"c":0,"x":0.65625,"hi":0},{"c":0,"x":0.6875,"hi":0},{"c":0,"x":0.71875,"hi":0},{"c":0,"x":0.75,"hi":0},{"c":0,"x":0.78125,"hi":0},{"c":0,"x":0.8125,"hi":0},{"c":0,"x":0.84375,"hi":0},{"c":0,"x":0.875,"hi":0},{"c":0,"x":0.90625,"hi":0},{"c":0,"x":0.9375,"hi":0},{"c":0,"x":0.96875,"hi":0},{"c":0,"x":1,"hi":0},
{"c":1,"x":0,"hi":-0.004},{"c":1,"x":0.03125,"hi":-0.004},{"c":1,"x":0.0625,"hi":-0.004},{"c":1,"x":0.09375,"hi":-0.004},{"c":1,"x":0.125,"hi":-0.003},{"c":1,"x":0.15625,"hi":-0.003},{"c":1,"x":0.1875,"hi":-0.002},{"c":1,"x":0.21875,"hi":-0.001},{"c":1,"x":0.25,"hi":-0.001},{"c":1,"x":0.28125,"hi":0},{"c":1,"x":0.3125,"hi":0.001},{"c":1,"x":0.34375,"hi":0.002},{"c":1,"x":0.375,"hi":0.002},{"c":1,"x":0.40625,"hi":0.003},{"c":1,"x":0.4375,"hi":0.003},{"c":1,"x":0.46875,"hi":0.004},{"c":1,"x":0.5,"hi":0.004},{"c":1,"x":0.53125,"hi":0.004},{"c":1,"x":0.5625,"hi":0.004},{"c":1,"x":0.59375,"hi":0.004},{"c":1,"x":0.625,"hi":0.003},{"c":1,"x":0.65625,"hi":0.003},{"c":1,"x":0.6875,"hi":0.002},{"c":1,"x":0.71875,"hi":0.001},{"c":1,"x":0.75,"hi":0.001},{"c":1,"x":0.78125,"hi":0},{"c":1,"x":0.8125,"hi":-0.001},{"c":1,"x":0.84375,"hi":-0.002},{"c":1,"x":0.875,"hi":-0.002},{"c":1,"x":0.90625,"hi":-0.003},{"c":1,"x":0.9375,"hi":-0.003},{"c":1,"x":0.96875,"hi":-0.004},{"c":1,"x":1,"hi":-0.004},
{"c":2,"x":0,"hi":-0.03},{"c":2,"x":0.03125,"hi":-0.031},{"c":2,"x":0.0625,"hi":-0.03},{"c":2,"x":0.09375,"hi":-0.028},{"c":2,"x":0.125,"hi":-0.024},{"c":2,"x":0.15625,"hi":-0.02},{"c":2,"x":0.1875,"hi":-0.015},{"c":2,"x":0.21875,"hi":-0.01},{"c":2,"x":0.25,"hi":-0.004},{"c":2,"x":0.28125,"hi":0.002},{"c":2,"x":0.3125,"hi":0.008},{"c":2,"x":0.34375,"hi":0.014},{"c":2,"x":0.375,"hi":0.019},{"c":2,"x":0.40625,"hi":0.023},{"c":2,"x":0.4375,"hi":0.027},{"c":2,"x":0.46875,"hi":0.029},{"c":2,"x":0.5,"hi":0.031},{"c":2,"x":0.53125,"hi":0.031},{"c":2,"x":0.5625,"hi":0.03},{"c":2,"x":0.59375,"hi":0.028},{"c":2,"x":0.625,"hi":0.024},{"c":2,"x":0.65625,"hi":0.02},{"c":2,"x":0.6875,"hi":0.015},{"c":2,"x":0.71875,"hi":0.01},{"c":2,"x":0.75,"hi":0.004},{"c":2,"x":0.78125,"hi":-0.002},{"c":2,"x":0.8125,"hi":-0.008},{"c":2,"x":0.84375,"hi":-0.014},{"c":2,"x":0.875,"hi":-0.019},{"c":2,"x":0.90625,"hi":-0.023},{"c":2,"x":0.9375,"hi":-0.027},{"c":2,"x":0.96875,"hi":-0.029},{"c":2,"x":1,"hi":-0.03},
{"c":3,"x":0,"hi":-0.105},{"c":3,"x":0.03125,"hi":-0.109},{"c":3,"x":0.0625,"hi":-0.105},{"c":3,"x":0.09375,"hi":-0.098},{"c":3,"x":0.125,"hi":-0.086},{"c":3,"x":0.15625,"hi":-0.071},{"c":3,"x":0.1875,"hi":-0.054},{"c":3,"x":0.21875,"hi":-0.034},{"c":3,"x":0.25,"hi":-0.014},{"c":3,"x":0.28125,"hi":0.008},{"c":3,"x":0.3125,"hi":0.029},{"c":3,"x":0.34375,"hi":0.049},{"c":3,"x":0.375,"hi":0.067},{"c":3,"x":0.40625,"hi":0.082},{"c":3,"x":0.4375,"hi":0.095},{"c":3,"x":0.46875,"hi":0.103},{"c":3,"x":0.5,"hi":0.108},{"c":3,"x":0.53125,"hi":0.109},{"c":3,"x":0.5625,"hi":0.105},{"c":3,"x":0.59375,"hi":0.098},{"c":3,"x":0.625,"hi":0.086},{"c":3,"x":0.65625,"hi":0.071},{"c":3,"x":0.6875,"hi":0.054},{"c":3,"x":0.71875,"hi":0.034},{"c":3,"x":0.75,"hi":0.014},{"c":3,"x":0.78125,"hi":-0.008},{"c":3,"x":0.8125,"hi":-0.029},{"c":3,"x":0.84375,"hi":-0.049},{"c":3,"x":0.875,"hi":-0.067},{"c":3,"x":0.90625,"hi":-0.082},{"c":3,"x":0.9375,"hi":-0.095},{"c":3,"x":0.96875,"hi":-0.103},{"c":3,"x":1,"hi":-0.105},
{"c":4,"x":0,"hi":-0.219},{"c":4,"x":0.03125,"hi":-0.226},{"c":4,"x":0.0625,"hi":-0.219},{"c":4,"x":0.09375,"hi":-0.203},{"c":4,"x":0.125,"hi":-0.179},{"c":4,"x":0.15625,"hi":-0.149},{"c":4,"x":0.1875,"hi":-0.112},{"c":4,"x":0.21875,"hi":-0.072},{"c":4,"x":0.25,"hi":-0.028},{"c":4,"x":0.28125,"hi":0.016},{"c":4,"x":0.3125,"hi":0.06},{"c":4,"x":0.34375,"hi":0.101},{"c":4,"x":0.375,"hi":0.139},{"c":4,"x":0.40625,"hi":0.171},{"c":4,"x":0.4375,"hi":0.197},{"c":4,"x":0.46875,"hi":0.215},{"c":4,"x":0.5,"hi":0.225},{"c":4,"x":0.53125,"hi":0.226},{"c":4,"x":0.5625,"hi":0.219},{"c":4,"x":0.59375,"hi":0.203},{"c":4,"x":0.625,"hi":0.179},{"c":4,"x":0.65625,"hi":0.149},{"c":4,"x":0.6875,"hi":0.112},{"c":4,"x":0.71875,"hi":0.072},{"c":4,"x":0.75,"hi":0.028},{"c":4,"x":0.78125,"hi":-0.016},{"c":4,"x":0.8125,"hi":-0.06},{"c":4,"x":0.84375,"hi":-0.101},{"c":4,"x":0.875,"hi":-0.139},{"c":4,"x":0.90625,"hi":-0.171},{"c":4,"x":0.9375,"hi":-0.197},{"c":4,"x":0.96875,"hi":-0.215},{"c":4,"x":1,"hi":-0.219},
{"c":5,"x":0,"hi":-0.38},{"c":5,"x":0.03125,"hi":-0.393},{"c":5,"x":0.0625,"hi":-0.38},{"c":5,"x":0.09375,"hi":-0.352},{"c":5,"x":0.125,"hi":-0.311},{"c":5,"x":0.15625,"hi":-0.258},{"c":5,"x":0.1875,"hi":-0.195},{"c":5,"x":0.21875,"hi":-0.125},{"c":5,"x":0.25,"hi":-0.049},{"c":5,"x":0.28125,"hi":0.028},{"c":5,"x":0.3125,"hi":0.104},{"c":5,"x":0.34375,"hi":0.176},{"c":5,"x":0.375,"hi":0.241},{"c":5,"x":0.40625,"hi":0.298},{"c":5,"x":0.4375,"hi":0.342},{"c":5,"x":0.46875,"hi":0.374},{"c":5,"x":0.5,"hi":0.391},{"c":5,"x":0.53125,"hi":0.393},{"c":5,"x":0.5625,"hi":0.38},{"c":5,"x":0.59375,"hi":0.352},{"c":5,"x":0.625,"hi":0.311},{"c":5,"x":0.65625,"hi":0.258},{"c":5,"x":0.6875,"hi":0.195},{"c":5,"x":0.71875,"hi":0.125},{"c":5,"x":0.75,"hi":0.049},{"c":5,"x":0.78125,"hi":-0.028},{"c":5,"x":0.8125,"hi":-0.104},{"c":5,"x":0.84375,"hi":-0.176},{"c":5,"x":0.875,"hi":-0.241},{"c":5,"x":0.90625,"hi":-0.298},{"c":5,"x":0.9375,"hi":-0.342},{"c":5,"x":0.96875,"hi":-0.374},{"c":5,"x":1,"hi":-0.38},
{"c":6,"x":0,"hi":-0.578},{"c":6,"x":0.03125,"hi":-0.598},{"c":6,"x":0.0625,"hi":-0.578},{"c":6,"x":0.09375,"hi":-0.536},{"c":6,"x":0.125,"hi":-0.473},{"c":6,"x":0.15625,"hi":-0.393},{"c":6,"x":0.1875,"hi":-0.297},{"c":6,"x":0.21875,"hi":-0.19},{"c":6,"x":0.25,"hi":-0.075},{"c":6,"x":0.28125,"hi":0.042},{"c":6,"x":0.3125,"hi":0.158},{"c":6,"x":0.34375,"hi":0.268},{"c":6,"x":0.375,"hi":0.367},{"c":6,"x":0.40625,"hi":0.452},{"c":6,"x":0.4375,"hi":0.52},{"c":6,"x":0.46875,"hi":0.568},{"c":6,"x":0.5,"hi":0.594},{"c":6,"x":0.53125,"hi":0.598},{"c":6,"x":0.5625,"hi":0.578},{"c":6,"x":0.59375,"hi":0.536},{"c":6,"x":0.625,"hi":0.473},{"c":6,"x":0.65625,"hi":0.393},{"c":6,"x":0.6875,"hi":0.297},{"c":6,"x":0.71875,"hi":0.19},{"c":6,"x":0.75,"hi":0.075},{"c":6,"x":0.78125,"hi":-0.042},{"c":6,"x":0.8125,"hi":-0.158},{"c":6,"x":0.84375,"hi":-0.268},{"c":6,"x":0.875,"hi":-0.367},{"c":6,"x":0.90625,"hi":-0.452},{"c":6,"x":0.9375,"hi":-0.52},{"c":6,"x":0.96875,"hi":-0.568},{"c":6,"x":1,"hi":-0.578},
{"c":7,"x":0,"hi":-0.822},{"c":7,"x":0.03125,"hi":-0.85},{"c":7,"x":0.0625,"hi":-0.822},{"c":7,"x":0.09375,"hi":-0.762},{"c":7,"x":0.125,"hi":-0.673},{"c":7,"x":0.15625,"hi":-0.558},{"c":7,"x":0.1875,"hi":-0.422},{"c":7,"x":0.21875,"hi":-0.27},{"c":7,"x":0.25,"hi":-0.107},{"c":7,"x":0.28125,"hi":0.06},{"c":7,"x":0.3125,"hi":0.225},{"c":7,"x":0.34375,"hi":0.381},{"c":7,"x":0.375,"hi":0.522},{"c":7,"x":0.40625,"hi":0.643},{"c":7,"x":0.4375,"hi":0.74},{"c":7,"x":0.46875,"hi":0.808},{"c":7,"x":0.5,"hi":0.845},{"c":7,"x":0.53125,"hi":0.85},{"c":7,"x":0.5625,"hi":0.822},{"c":7,"x":0.59375,"hi":0.762},{"c":7,"x":0.625,"hi":0.673},{"c":7,"x":0.65625,"hi":0.558},{"c":7,"x":0.6875,"hi":0.422},{"c":7,"x":0.71875,"hi":0.27},{"c":7,"x":0.75,"hi":0.107},{"c":7,"x":0.78125,"hi":-0.06},{"c":7,"x":0.8125,"hi":-0.225},{"c":7,"x":0.84375,"hi":-0.381},{"c":7,"x":0.875,"hi":-0.522},{"c":7,"x":0.90625,"hi":-0.643},{"c":7,"x":0.9375,"hi":-0.74},{"c":7,"x":0.96875,"hi":-0.808},{"c":7,"x":1,"hi":-0.822},
{"c":8,"x":0,"hi":-1.117},{"c":8,"x":0.03125,"hi":-1.155},{"c":8,"x":0.0625,"hi":-1.117},{"c":8,"x":0.09375,"hi":-1.036},{"c":8,"x":0.125,"hi":-0.915},{"c":8,"x":0.15625,"hi":-0.759},{"c":8,"x":0.1875,"hi":-0.574},{"c":8,"x":0.21875,"hi":-0.367},{"c":8,"x":0.25,"hi":-0.145},{"c":8,"x":0.28125,"hi":0.082},{"c":8,"x":0.3125,"hi":0.306},{"c":8,"x":0.34375,"hi":0.518},{"c":8,"x":0.375,"hi":0.71},{"c":8,"x":0.40625,"hi":0.875},{"c":8,"x":0.4375,"hi":1.006},{"c":8,"x":0.46875,"hi":1.098},{"c":8,"x":0.5,"hi":1.149},{"c":8,"x":0.53125,"hi":1.155},{"c":8,"x":0.5625,"hi":1.117},{"c":8,"x":0.59375,"hi":1.036},{"c":8,"x":0.625,"hi":0.915},{"c":8,"x":0.65625,"hi":0.759},{"c":8,"x":0.6875,"hi":0.574},{"c":8,"x":0.71875,"hi":0.367},{"c":8,"x":0.75,"hi":0.145},{"c":8,"x":0.78125,"hi":-0.082},{"c":8,"x":0.8125,"hi":-0.306},{"c":8,"x":0.84375,"hi":-0.518},{"c":8,"x":0.875,"hi":-0.71},{"c":8,"x":0.90625,"hi":-0.875},{"c":8,"x":0.9375,"hi":-1.006},{"c":8,"x":0.96875,"hi":-1.098},{"c":8,"x":1,"hi":-1.117},
{"c":9,"x":0,"hi":-1.458},{"c":9,"x":0.03125,"hi":-1.507},{"c":9,"x":0.0625,"hi":-1.458},{"c":9,"x":0.09375,"hi":-1.352},{"c":9,"x":0.125,"hi":-1.194},{"c":9,"x":0.15625,"hi":-0.99},{"c":9,"x":0.1875,"hi":-0.749},{"c":9,"x":0.21875,"hi":-0.478},{"c":9,"x":0.25,"hi":-0.189},{"c":9,"x":0.28125,"hi":0.107},{"c":9,"x":0.3125,"hi":0.399},{"c":9,"x":0.34375,"hi":0.675},{"c":9,"x":0.375,"hi":0.926},{"c":9,"x":0.40625,"hi":1.141},{"c":9,"x":0.4375,"hi":1.312},{"c":9,"x":0.46875,"hi":1.433},{"c":9,"x":0.5,"hi":1.499},{"c":9,"x":0.53125,"hi":1.507},{"c":9,"x":0.5625,"hi":1.458},{"c":9,"x":0.59375,"hi":1.352},{"c":9,"x":0.625,"hi":1.194},{"c":9,"x":0.65625,"hi":0.99},{"c":9,"x":0.6875,"hi":0.749},{"c":9,"x":0.71875,"hi":0.478},{"c":9,"x":0.75,"hi":0.189},{"c":9,"x":0.78125,"hi":-0.107},{"c":9,"x":0.8125,"hi":-0.399},{"c":9,"x":0.84375,"hi":-0.675},{"c":9,"x":0.875,"hi":-0.926},{"c":9,"x":0.90625,"hi":-1.141},{"c":9,"x":0.9375,"hi":-1.312},{"c":9,"x":0.96875,"hi":-1.433},{"c":9,"x":1,"hi":-1.458},
{"c":10,"x":0,"hi":-1.853},{"c":10,"x":0.03125,"hi":-1.915},{"c":10,"x":0.0625,"hi":-1.852},{"c":10,"x":0.09375,"hi":-1.718},{"c":10,"x":0.125,"hi":-1.517},{"c":10,"x":0.15625,"hi":-1.259},{"c":10,"x":0.1875,"hi":-0.951},{"c":10,"x":0.21875,"hi":-0.608},{"c":10,"x":0.25,"hi":-0.241},{"c":10,"x":0.28125,"hi":0.136},{"c":10,"x":0.3125,"hi":0.507},{"c":10,"x":0.34375,"hi":0.858},{"c":10,"x":0.375,"hi":1.177},{"c":10,"x":0.40625,"hi":1.45},{"c":10,"x":0.4375,"hi":1.668},{"c":10,"x":0.46875,"hi":1.821},{"c":10,"x":0.5,"hi":1.905},{"c":10,"x":0.53125,"hi":1.915},{"c":10,"x":0.5625,"hi":1.852},{"c":10,"x":0.59375,"hi":1.718},{"c":10,"x":0.625,"hi":1.517},{"c":10,"x":0.65625,"hi":1.259},{"c":10,"x":0.6875,"hi":0.951},{"c":10,"x":0.71875,"hi":0.608},{"c":10,"x":0.75,"hi":0.241},{"c":10,"x":0.78125,"hi":-0.136},{"c":10,"x":0.8125,"hi":-0.507},{"c":10,"x":0.84375,"hi":-0.858},{"c":10,"x":0.875,"hi":-1.177},{"c":10,"x":0.90625,"hi":-1.45},{"c":10,"x":0.9375,"hi":-1.668},{"c":10,"x":0.96875,"hi":-1.821},{"c":10,"x":1,"hi":-1.853}
],
"p4": [
{"c":0,"x":0,"hi":0},{"c":0,"x":0.03125,"hi":0},{"c":0,"x":0.0625,"hi":0},{"c":0,"x":0.09375,"hi":0},{"c":0,"x":0.125,"hi":0},{"c":0,"x":0.15625,"hi":0},{"c":0,"x":0.1875,"hi":0},{"c":0,"x":0.21875,"hi":0},{"c":0,"x":0.25,"hi":0},{"c":0,"x":0.28125,"hi":0},{"c":0,"x":0.3125,"hi":0},{"c":0,"x":0.34375,"hi":0},{"c":0,"x":0.375,"hi":0},{"c":0,"x":0.40625,"hi":0},{"c":0,"x":0.4375,"hi":0},{"c":0,"x":0.46875,"hi":0},{"c":0,"x":0.5,"hi":0},{"c":0,"x":0.53125,"hi":0},{"c":0,"x":0.5625,"hi":0},{"c":0,"x":0.59375,"hi":0},{"c":0,"x":0.625,"hi":0},{"c":0,"x":0.65625,"hi":0},{"c":0,"x":0.6875,"hi":0},{"c":0,"x":0.71875,"hi":0},{"c":0,"x":0.75,"hi":0},{"c":0,"x":0.78125,"hi":0},{"c":0,"x":0.8125,"hi":0},{"c":0,"x":0.84375,"hi":0},{"c":0,"x":0.875,"hi":0},{"c":0,"x":0.90625,"hi":0},{"c":0,"x":0.9375,"hi":0},{"c":0,"x":0.96875,"hi":0},{"c":0,"x":1,"hi":0},
{"c":1,"x":0,"hi":-0.004},{"c":1,"x":0.03125,"hi":-0.004},{"c":1,"x":0.0625,"hi":-0.004},{"c":1,"x":0.09375,"hi":-0.004},{"c":1,"x":0.125,"hi":-0.003},{"c":1,"x":0.15625,"hi":-0.003},{"c":1,"x":0.1875,"hi":-0.002},{"c":1,"x":0.21875,"hi":-0.001},{"c":1,"x":0.25,"hi":-0.001},{"c":1,"x":0.28125,"hi":0},{"c":1,"x":0.3125,"hi":0.001},{"c":1,"x":0.34375,"hi":0.002},{"c":1,"x":0.375,"hi":0.002},{"c":1,"x":0.40625,"hi":0.003},{"c":1,"x":0.4375,"hi":0.003},{"c":1,"x":0.46875,"hi":0.004},{"c":1,"x":0.5,"hi":0.004},{"c":1,"x":0.53125,"hi":0.004},{"c":1,"x":0.5625,"hi":0.004},{"c":1,"x":0.59375,"hi":0.004},{"c":1,"x":0.625,"hi":0.003},{"c":1,"x":0.65625,"hi":0.003},{"c":1,"x":0.6875,"hi":0.002},{"c":1,"x":0.71875,"hi":0.001},{"c":1,"x":0.75,"hi":0.001},{"c":1,"x":0.78125,"hi":0},{"c":1,"x":0.8125,"hi":-0.001},{"c":1,"x":0.84375,"hi":-0.002},{"c":1,"x":0.875,"hi":-0.002},{"c":1,"x":0.90625,"hi":-0.003},{"c":1,"x":0.9375,"hi":-0.003},{"c":1,"x":0.96875,"hi":-0.004},{"c":1,"x":1,"hi":-0.004},
{"c":2,"x":0,"hi":-0.03},{"c":2,"x":0.03125,"hi":-0.031},{"c":2,"x":0.0625,"hi":-0.03},{"c":2,"x":0.09375,"hi":-0.028},{"c":2,"x":0.125,"hi":-0.024},{"c":2,"x":0.15625,"hi":-0.02},{"c":2,"x":0.1875,"hi":-0.015},{"c":2,"x":0.21875,"hi":-0.01},{"c":2,"x":0.25,"hi":-0.004},{"c":2,"x":0.28125,"hi":0.002},{"c":2,"x":0.3125,"hi":0.008},{"c":2,"x":0.34375,"hi":0.014},{"c":2,"x":0.375,"hi":0.019},{"c":2,"x":0.40625,"hi":0.023},{"c":2,"x":0.4375,"hi":0.027},{"c":2,"x":0.46875,"hi":0.029},{"c":2,"x":0.5,"hi":0.031},{"c":2,"x":0.53125,"hi":0.031},{"c":2,"x":0.5625,"hi":0.03},{"c":2,"x":0.59375,"hi":0.028},{"c":2,"x":0.625,"hi":0.024},{"c":2,"x":0.65625,"hi":0.02},{"c":2,"x":0.6875,"hi":0.015},{"c":2,"x":0.71875,"hi":0.01},{"c":2,"x":0.75,"hi":0.004},{"c":2,"x":0.78125,"hi":-0.002},{"c":2,"x":0.8125,"hi":-0.008},{"c":2,"x":0.84375,"hi":-0.014},{"c":2,"x":0.875,"hi":-0.019},{"c":2,"x":0.90625,"hi":-0.023},{"c":2,"x":0.9375,"hi":-0.027},{"c":2,"x":0.96875,"hi":-0.029},{"c":2,"x":1,"hi":-0.03},
{"c":3,"x":0,"hi":-0.107},{"c":3,"x":0.03125,"hi":-0.111},{"c":3,"x":0.0625,"hi":-0.107},{"c":3,"x":0.09375,"hi":-0.099},{"c":3,"x":0.125,"hi":-0.088},{"c":3,"x":0.15625,"hi":-0.073},{"c":3,"x":0.1875,"hi":-0.055},{"c":3,"x":0.21875,"hi":-0.035},{"c":3,"x":0.25,"hi":-0.014},{"c":3,"x":0.28125,"hi":0.008},{"c":3,"x":0.3125,"hi":0.029},{"c":3,"x":0.34375,"hi":0.05},{"c":3,"x":0.375,"hi":0.068},{"c":3,"x":0.40625,"hi":0.084},{"c":3,"x":0.4375,"hi":0.096},{"c":3,"x":0.46875,"hi":0.105},{"c":3,"x":0.5,"hi":0.11},{"c":3,"x":0.53125,"hi":0.111},{"c":3,"x":0.5625,"hi":0.107},{"c":3,"x":0.59375,"hi":0.099},{"c":3,"x":0.625,"hi":0.088},{"c":3,"x":0.65625,"hi":0.073},{"c":3,"x":0.6875,"hi":0.055},{"c":3,"x":0.71875,"hi":0.035},{"c":3,"x":0.75,"hi":0.014},{"c":3,"x":0.78125,"hi":-0.008},{"c":3,"x":0.8125,"hi":-0.029},{"c":3,"x":0.84375,"hi":-0.05},{"c":3,"x":0.875,"hi":-0.068},{"c":3,"x":0.90625,"hi":-0.084},{"c":3,"x":0.9375,"hi":-0.096},{"c":3,"x":0.96875,"hi":-0.105},{"c":3,"x":1,"hi":-0.107},
{"c":4,"x":0,"hi":-0.224},{"c":4,"x":0.03125,"hi":-0.231},{"c":4,"x":0.0625,"hi":-0.224},{"c":4,"x":0.09375,"hi":-0.208},{"c":4,"x":0.125,"hi":-0.183},{"c":4,"x":0.15625,"hi":-0.152},{"c":4,"x":0.1875,"hi":-0.115},{"c":4,"x":0.21875,"hi":-0.073},{"c":4,"x":0.25,"hi":-0.029},{"c":4,"x":0.28125,"hi":0.016},{"c":4,"x":0.3125,"hi":0.061},{"c":4,"x":0.34375,"hi":0.104},{"c":4,"x":0.375,"hi":0.142},{"c":4,"x":0.40625,"hi":0.175},{"c":4,"x":0.4375,"hi":0.202},{"c":4,"x":0.46875,"hi":0.22},{"c":4,"x":0.5,"hi":0.23},{"c":4,"x":0.53125,"hi":0.231},{"c":4,"x":0.5625,"hi":0.224},{"c":4,"x":0.59375,"hi":0.208},{"c":4,"x":0.625,"hi":0.183},{"c":4,"x":0.65625,"hi":0.152},{"c":4,"x":0.6875,"hi":0.115},{"c":4,"x":0.71875,"hi":0.073},{"c":4,"x":0.75,"hi":0.029},{"c":4,"x":0.78125,"hi":-0.016},{"c":4,"x":0.8125,"hi":-0.061},{"c":4,"x":0.84375,"hi":-0.104},{"c":4,"x":0.875,"hi":-0.142},{"c":4,"x":0.90625,"hi":-0.175},{"c":4,"x":0.9375,"hi":-0.202},{"c":4,"x":0.96875,"hi":-0.22},{"c":4,"x":1,"hi":-0.224},
{"c":5,"x":0,"hi":-0.387},{"c":5,"x":0.03125,"hi":-0.4},{"c":5,"x":0.0625,"hi":-0.387},{"c":5,"x":0.09375,"hi":-0.359},{"c":5,"x":0.125,"hi":-0.317},{"c":5,"x":0.15625,"hi":-0.263},{"c":5,"x":0.1875,"hi":-0.199},{"c":5,"x":0.21875,"hi":-0.127},{"c":5,"x":0.25,"hi":-0.05},{"c":5,"x":0.28125,"hi":0.028},{"c":5,"x":0.3125,"hi":0.106},{"c":5,"x":0.34375,"hi":0.179},{"c":5,"x":0.375,"hi":0.246},{"c":5,"x":0.40625,"hi":0.303},{"c":5,"x":0.4375,"hi":0.348},{"c":5,"x":0.46875,"hi":0.38},{"c":5,"x":0.5,"hi":0.398},{"c":5,"x":0.53125,"hi":0.4},{"c":5,"x":0.5625,"hi":0.387},{"c":5,"x":0.59375,"hi":0.359},{"c":5,"x":0.625,"hi":0.317},{"c":5,"x":0.65625,"hi":0.263},{"c":5,"x":0.6875,"hi":0.199},{"c":5,"x":0.71875,"hi":0.127},{"c":5,"x":0.75,"hi":0.05},{"c":5,"x":0.78125,"hi":-0.028},{"c":5,"x":0.8125,"hi":-0.106},{"c":5,"x":0.84375,"hi":-0.179},{"c":5,"x":0.875,"hi":-0.246},{"c":5,"x":0.90625,"hi":-0.303},{"c":5,"x":0.9375,"hi":-0.348},{"c":5,"x":0.96875,"hi":-0.38},{"c":5,"x":1,"hi":-0.387},
{"c":6,"x":0,"hi":-0.59},{"c":6,"x":0.03125,"hi":-0.609},{"c":6,"x":0.0625,"hi":-0.589},{"c":6,"x":0.09375,"hi":-0.547},{"c":6,"x":0.125,"hi":-0.483},{"c":6,"x":0.15625,"hi":-0.401},{"c":6,"x":0.1875,"hi":-0.303},{"c":6,"x":0.21875,"hi":-0.193},{"c":6,"x":0.25,"hi":-0.077},{"c":6,"x":0.28125,"hi":0.043},{"c":6,"x":0.3125,"hi":0.161},{"c":6,"x":0.34375,"hi":0.273},{"c":6,"x":0.375,"hi":0.374},{"c":6,"x":0.40625,"hi":0.461},{"c":6,"x":0.4375,"hi":0.531},{"c":6,"x":0.46875,"hi":0.58},{"c":6,"x":0.5,"hi":0.606},{"c":6,"x":0.53125,"hi":0.609},{"c":6,"x":0.5625,"hi":0.589},{"c":6,"x":0.59375,"hi":0.547},{"c":6,"x":0.625,"hi":0.483},{"c":6,"x":0.65625,"hi":0.401},{"c":6,"x":0.6875,"hi":0.303},{"c":6,"x":0.71875,"hi":0.193},{"c":6,"x":0.75,"hi":0.077},{"c":6,"x":0.78125,"hi":-0.043},{"c":6,"x":0.8125,"hi":-0.161},{"c":6,"x":0.84375,"hi":-0.273},{"c":6,"x":0.875,"hi":-0.374},{"c":6,"x":0.90625,"hi":-0.461},{"c":6,"x":0.9375,"hi":-0.531},{"c":6,"x":0.96875,"hi":-0.58},{"c":6,"x":1,"hi":-0.59},
{"c":7,"x":0,"hi":-0.84},{"c":7,"x":0.03125,"hi":-0.868},{"c":7,"x":0.0625,"hi":-0.839},{"c":7,"x":0.09375,"hi":-0.778},{"c":7,"x":0.125,"hi":-0.687},{"c":7,"x":0.15625,"hi":-0.57},{"c":7,"x":0.1875,"hi":-0.431},{"c":7,"x":0.21875,"hi":-0.275},{"c":7,"x":0.25,"hi":-0.109},{"c":7,"x":0.28125,"hi":0.061},{"c":7,"x":0.3125,"hi":0.23},{"c":7,"x":0.34375,"hi":0.389},{"c":7,"x":0.375,"hi":0.533},{"c":7,"x":0.40625,"hi":0.657},{"c":7,"x":0.4375,"hi":0.756},{"c":7,"x":0.46875,"hi":0.825},{"c":7,"x":0.5,"hi":0.863},{"c":7,"x":0.53125,"hi":0.868},{"c":7,"x":0.5625,"hi":0.839},{"c":7,"x":0.59375,"hi":0.778},{"c":7,"x":0.625,"hi":0.687},{"c":7,"x":0.65625,"hi":0.57},{"c":7,"x":0.6875,"hi":0.431},{"c":7,"x":0.71875,"hi":0.275},{"c":7,"x":0.75,"hi":0.109},{"c":7,"x":0.78125,"hi":-0.061},{"c":7,"x":0.8125,"hi":-0.23},{"c":7,"x":0.84375,"hi":-0.389},{"c":7,"x":0.875,"hi":-0.533},{"c":7,"x":0.90625,"hi":-0.657},{"c":7,"x":0.9375,"hi":-0.756},{"c":7,"x":0.96875,"hi":-0.825},{"c":7,"x":1,"hi":-0.84},
{"c":8,"x":0,"hi":-1.14},{"c":8,"x":0.03125,"hi":-1.178},{"c":8,"x":0.0625,"hi":-1.139},{"c":8,"x":0.09375,"hi":-1.057},{"c":8,"x":0.125,"hi":-0.933},{"c":8,"x":0.15625,"hi":-0.774},{"c":8,"x":0.1875,"hi":-0.585},{"c":8,"x":0.21875,"hi":-0.374},{"c":8,"x":0.25,"hi":-0.148},{"c":8,"x":0.28125,"hi":0.083},{"c":8,"x":0.3125,"hi":0.312},{"c":8,"x":0.34375,"hi":0.528},{"c":8,"x":0.375,"hi":0.724},{"c":8,"x":0.40625,"hi":0.892},{"c":8,"x":0.4375,"hi":1.026},{"c":8,"x":0.46875,"hi":1.12},{"c":8,"x":0.5,"hi":1.172},{"c":8,"x":0.53125,"hi":1.178},{"c":8,"x":0.5625,"hi":1.139},{"c":8,"x":0.59375,"hi":1.057},{"c":8,"x":0.625,"hi":0.933},{"c":8,"x":0.65625,"hi":0.774},{"c":8,"x":0.6875,"hi":0.585},{"c":8,"x":0.71875,"hi":0.374},{"c":8,"x":0.75,"hi":0.148},{"c":8,"x":0.78125,"hi":-0.083},{"c":8,"x":0.8125,"hi":-0.312},{"c":8,"x":0.84375,"hi":-0.528},{"c":8,"x":0.875,"hi":-0.724},{"c":8,"x":0.90625,"hi":-0.892},{"c":8,"x":0.9375,"hi":-1.026},{"c":8,"x":0.96875,"hi":-1.12},{"c":8,"x":1,"hi":-1.14},
{"c":9,"x":0,"hi":-1.489},{"c":9,"x":0.03125,"hi":-1.539},{"c":9,"x":0.0625,"hi":-1.488},{"c":9,"x":0.09375,"hi":-1.38},{"c":9,"x":0.125,"hi":-1.219},{"c":9,"x":0.15625,"hi":-1.011},{"c":9,"x":0.1875,"hi":-0.765},{"c":9,"x":0.21875,"hi":-0.488},{"c":9,"x":0.25,"hi":-0.193},{"c":9,"x":0.28125,"hi":0.109},{"c":9,"x":0.3125,"hi":0.407},{"c":9,"x":0.34375,"hi":0.69},{"c":9,"x":0.375,"hi":0.946},{"c":9,"x":0.40625,"hi":1.165},{"c":9,"x":0.4375,"hi":1.34},{"c":9,"x":0.46875,"hi":1.464},{"c":9,"x":0.5,"hi":1.531},{"c":9,"x":0.53125,"hi":1.539},{"c":9,"x":0.5625,"hi":1.488},{"c":9,"x":0.59375,"hi":1.38},{"c":9,"x":0.625,"hi":1.219},{"c":9,"x":0.65625,"hi":1.011},{"c":9,"x":0.6875,"hi":0.765},{"c":9,"x":0.71875,"hi":0.488},{"c":9,"x":0.75,"hi":0.193},{"c":9,"x":0.78125,"hi":-0.109},{"c":9,"x":0.8125,"hi":-0.407},{"c":9,"x":0.84375,"hi":-0.69},{"c":9,"x":0.875,"hi":-0.946},{"c":9,"x":0.90625,"hi":-1.165},{"c":9,"x":0.9375,"hi":-1.34},{"c":9,"x":0.96875,"hi":-1.464},{"c":9,"x":1,"hi":-1.489},
{"c":10,"x":0,"hi":-1.891},{"c":10,"x":0.03125,"hi":-1.955},{"c":10,"x":0.0625,"hi":-1.891},{"c":10,"x":0.09375,"hi":-1.753},{"c":10,"x":0.125,"hi":-1.549},{"c":10,"x":0.15625,"hi":-1.285},{"c":10,"x":0.1875,"hi":-0.971},{"c":10,"x":0.21875,"hi":-0.62},{"c":10,"x":0.25,"hi":-0.246},{"c":10,"x":0.28125,"hi":0.138},{"c":10,"x":0.3125,"hi":0.517},{"c":10,"x":0.34375,"hi":0.876},{"c":10,"x":0.375,"hi":1.201},{"c":10,"x":0.40625,"hi":1.48},{"c":10,"x":0.4375,"hi":1.703},{"c":10,"x":0.46875,"hi":1.859},{"c":10,"x":0.5,"hi":1.945},{"c":10,"x":0.53125,"hi":1.955},{"c":10,"x":0.5625,"hi":1.891},{"c":10,"x":0.59375,"hi":1.753},{"c":10,"x":0.625,"hi":1.549},{"c":10,"x":0.65625,"hi":1.285},{"c":10,"x":0.6875,"hi":0.971},{"c":10,"x":0.71875,"hi":0.62},{"c":10,"x":0.75,"hi":0.246},{"c":10,"x":0.78125,"hi":-0.138},{"c":10,"x":0.8125,"hi":-0.517},{"c":10,"x":0.84375,"hi":-0.876},{"c":10,"x":0.875,"hi":-1.201},{"c":10,"x":0.90625,"hi":-1.48},{"c":10,"x":0.9375,"hi":-1.703},{"c":10,"x":0.96875,"hi":-1.859},{"c":10,"x":1,"hi":-1.891}
]
},
"columns": 1,
"spacing": {"row": -2, "column": 0},
"concat": [
{"hconcat": [
{"width": 578, "height": 448, "view": {"stroke": null}, "title": {"text": "Re hi Along Slice", "dx": 4}, "layer": [
{"data": {"values": [{"v": 0}]}, "mark": {"type": "rect", "fill": null, "stroke": "#333333", "strokeWidth": 1}, "encoding": {"x": {"datum": -0.05}, "x2": {"datum": 1.05}, "y": {"datum": -1.296}, "y2": {"datum": 1.296}}},
{"data": {"values": [{"v": 0}]}, "mark": {"type": "rule", "color": "#000000", "strokeWidth": 1}, "encoding": {"y": {"datum": 0}, "x": {"datum": -0.05}, "x2": {"datum": 1.05}}},
{"data": {"values": [{"v": 0}]}, "mark": {"type": "rule", "color": "#000000", "strokeWidth": 1}, "encoding": {"x": {"datum": 0}}},
{"data": {"name": "p1"}, "mark": {"type": "line", "strokeWidth": 1}, "encoding": {
"x": {"field": "x", "type": "quantitative", "scale": {"domain": [-0.05, 1.05], "range": [8, 578], "nice": false, "zero": false}, "axis": {"title": "iy/my", "values": [0, 0.2, 0.4, 0.6, 0.8, 1], "format": ".1f", "titleX": 293}},
"y": {"field": "hi", "type": "quantitative", "scale": {"domain": [-1.296, 1.296], "nice": false, "zero": false}, "axis": {"title": "hi", "values": [-1, -0.5, 0, 0.5, 1], "format": ".1f", "offset": -8, "minExtent": 62, "maxExtent": 62}},
"color": {"field": "c", "type": "ordinal", "scale": {"domain": [0,1,2,3,4,5,6,7,8,9,10], "range": ["#00DD00","#00FF22","#00FF66","#00FFB3","#00E6FF","#3399FF","#1A1AFF","#5A00FF","#AA00FF","#F000F0","#FF0088"]}, "legend": null}}},
{"data": {"values": [{"label": "x10"}]}, "mark": {"type": "text", "angle": 270, "align": "left", "baseline": "alphabetic", "fontSize": 16, "font": "Liberation Serif", "color": "#000000", "dx": -54.7, "dy": -31.5}, "encoding": {"x": {"datum": -0.05}, "y": {"datum": 1.296}, "text": {"field": "label"}}},
{"data": {"values": [{"label": "-10"}]}, "mark": {"type": "text", "angle": 270, "align": "left", "baseline": "alphabetic", "fontSize": 13, "font": "Liberation Serif", "color": "#000000", "dx": -28, "dy": -44.8}, "encoding": {"x": {"datum": -0.05}, "y": {"datum": 1.296}, "text": {"field": "label"}}}
]},
{"width": 570, "height": 448, "title": "Re hi Along Slice", "layer": [
{"data": {"values": [{"v": 0}]}, "mark": {"type": "rule", "color": "#000000", "strokeWidth": 1}, "encoding": {"y": {"datum": 0}}},
{"data": {"values": [{"v": 0}]}, "mark": {"type": "rule", "color": "#000000", "strokeWidth": 1}, "encoding": {"x": {"datum": 0}}},
{"data": {"name": "p2"}, "mark": {"type": "line", "strokeWidth": 1}, "encoding": {
"x": {"field": "x", "type": "quantitative", "scale": {"domain": [-0.05, 1.05], "nice": false, "zero": false}, "axis": {"title": "iy/my", "values": [0, 0.2, 0.4, 0.6, 0.8, 1], "format": ".1f"}},
"y": {"field": "hi", "type": "quantitative", "scale": {"domain": [-1.867, 1.867], "nice": false, "zero": false}, "axis": {"title": "hi", "values": [-1.5, -1, -0.5, 0, 0.5, 1, 1.5], "format": ".1f"}},
"color": {"field": "c", "type": "ordinal", "scale": {"domain": [0,1,2,3,4,5,6,7,8,9,10], "range": ["#00DD00","#00FF22","#00FF66","#00FFB3","#00E6FF","#3399FF","#1A1AFF","#5A00FF","#AA00FF","#F000F0","#FF0088"]}, "legend": null}}},
{"data": {"values": [{"label": "x10"}]}, "mark": {"type": "text", "angle": 270, "align": "left", "baseline": "alphabetic", "fontSize": 16, "font": "Liberation Serif", "color": "#000000", "dx": -54.7, "dy": -31.5}, "encoding": {"x": {"datum": -0.05}, "y": {"datum": 1.867}, "text": {"field": "label"}}},
{"data": {"values": [{"label": "-10"}]}, "mark": {"type": "text", "angle": 270, "align": "left", "baseline": "alphabetic", "fontSize": 13, "font": "Liberation Serif", "color": "#000000", "dx": -28, "dy": -44.8}, "encoding": {"x": {"datum": -0.05}, "y": {"datum": 1.867}, "text": {"field": "label"}}}
]}
], "spacing": 1.2, "bounds": "full"},
{"hconcat": [
{"width": 570, "height": 448, "title": "Re hi Along Slice", "layer": [
{"data": {"values": [{"v": 0}]}, "mark": {"type": "rule", "color": "#000000", "strokeWidth": 1}, "encoding": {"y": {"datum": 0}}},
{"data": {"values": [{"v": 0}]}, "mark": {"type": "rule", "color": "#000000", "strokeWidth": 1}, "encoding": {"x": {"datum": 0}}},
{"data": {"name": "p3"}, "mark": {"type": "line", "strokeWidth": 1}, "encoding": {
"x": {"field": "x", "type": "quantitative", "scale": {"domain": [-0.05, 1.05], "nice": false, "zero": false}, "axis": {"title": "iy/my", "values": [0, 0.2, 0.4, 0.6, 0.8, 1], "format": ".1f"}},
"y": {"field": "hi", "type": "quantitative", "scale": {"domain": [-2.11, 2.11], "nice": false, "zero": false}, "axis": {"title": "hi", "values": [-2, -1, 0, 1, 2], "format": "d", "minExtent": 62, "maxExtent": 62}},
"color": {"field": "c", "type": "ordinal", "scale": {"domain": [0,1,2,3,4,5,6,7,8,9,10], "range": ["#00DD00","#00FF22","#00FF66","#00FFB3","#00E6FF","#3399FF","#1A1AFF","#5A00FF","#AA00FF","#F000F0","#FF0088"]}, "legend": null}}},
{"data": {"values": [{"label": "x10"}]}, "mark": {"type": "text", "angle": 270, "align": "left", "baseline": "alphabetic", "fontSize": 16, "font": "Liberation Serif", "color": "#000000", "dx": -54.7, "dy": -31.5}, "encoding": {"x": {"datum": -0.05}, "y": {"datum": 2.11}, "text": {"field": "label"}}},
{"data": {"values": [{"label": "-10"}]}, "mark": {"type": "text", "angle": 270, "align": "left", "baseline": "alphabetic", "fontSize": 13, "font": "Liberation Serif", "color": "#000000", "dx": -28, "dy": -44.8}, "encoding": {"x": {"datum": -0.05}, "y": {"datum": 2.11}, "text": {"field": "label"}}}
]},
{"width": 570, "height": 448, "title": "Re hi Along Slice", "layer": [
{"data": {"values": [{"v": 0}]}, "mark": {"type": "rule", "color": "#000000", "strokeWidth": 1}, "encoding": {"y": {"datum": 0}}},
{"data": {"values": [{"v": 0}]}, "mark": {"type": "rule", "color": "#000000", "strokeWidth": 1}, "encoding": {"x": {"datum": 0}}},
{"data": {"name": "p4"}, "mark": {"type": "line", "strokeWidth": 1}, "encoding": {
"x": {"field": "x", "type": "quantitative", "scale": {"domain": [-0.05, 1.05], "nice": false, "zero": false}, "axis": {"title": "iy/my", "values": [0, 0.2, 0.4, 0.6, 0.8, 1], "format": ".1f"}},
"y": {"field": "hi", "type": "quantitative", "scale": {"domain": [-2.16, 2.16], "nice": false, "zero": false}, "axis": {"title": "hi", "values": [-2, -1, 0, 1, 2], "format": "d"}},
"color": {"field": "c", "type": "ordinal", "scale": {"domain": [0,1,2,3,4,5,6,7,8,9,10], "range": ["#00DD00","#00FF22","#00FF66","#00FFB3","#00E6FF","#3399FF","#1A1AFF","#5A00FF","#AA00FF","#F000F0","#FF0088"]}, "legend": null}}},
{"data": {"values": [{"label": "x10"}]}, "mark": {"type": "text", "angle": 270, "align": "left", "baseline": "alphabetic", "fontSize": 16, "font": "Liberation Serif", "color": "#000000", "dx": -54.7, "dy": -31.5}, "encoding": {"x": {"datum": -0.05}, "y": {"datum": 2.16}, "text": {"field": "label"}}},
{"data": {"values": [{"label": "-10"}]}, "mark": {"type": "text", "angle": 270, "align": "left", "baseline": "alphabetic", "fontSize": 13, "font": "Liberation Serif", "color": "#000000", "dx": -28, "dy": -44.8}, "encoding": {"x": {"datum": -0.05}, "y": {"datum": 2.16}, "text": {"field": "label"}}}
]}
], "spacing": 1.7, "bounds": "full"}
]
}
